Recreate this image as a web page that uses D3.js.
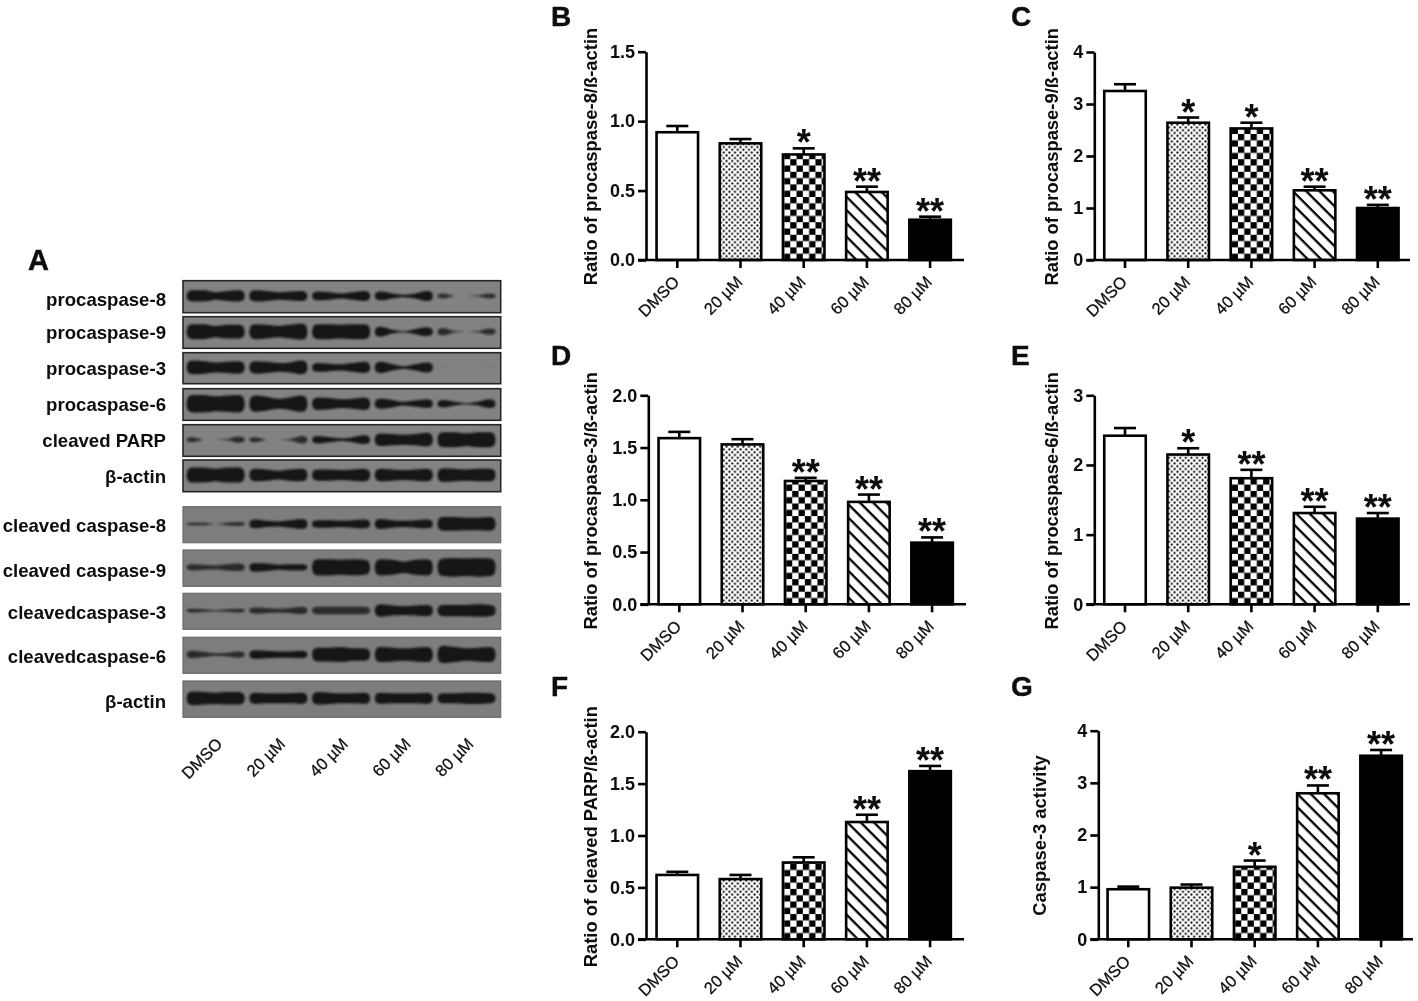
<!DOCTYPE html>
<html><head><meta charset="utf-8">
<script src="https://cdn.jsdelivr.net/npm/d3@7/dist/d3.min.js"></script>
<style>
html,body{margin:0;padding:0;background:#fff}
svg{display:block}
text{font-family:"Liberation Sans",Arial,sans-serif;fill:#0c0c0c}
</style></head><body>
<svg id="fig" width="1418" height="1001"></svg>
<script>
// ---------- data ----------
const doseLabels = ["DMSO","20 µM","40 µM","60 µM","80 µM"];

const procasp8Mean = [0.92,0.84,0.76,0.49,0.29];
const procasp8Upper = [0.965,0.871,0.804,0.528,0.312];
const procasp8Stars = ["","","*","**","**"];

const procasp9Mean = [3.25,2.64,2.53,1.34,1.00];
const procasp9Upper = [3.38,2.74,2.64,1.41,1.06];
const procasp9Stars = ["","*","*","**","**"];

const procasp3Mean = [1.59,1.53,1.18,0.98,0.59];
const procasp3Upper = [1.65,1.58,1.21,1.05,0.64];
const procasp3Stars = ["","","**","**","**"];

const procasp6Mean = [2.42,2.15,1.81,1.31,1.23];
const procasp6Upper = [2.53,2.24,1.93,1.40,1.31];
const procasp6Stars = ["","*","**","**","**"];

const parpMean = [0.62,0.58,0.74,1.13,1.62];
const parpUpper = [0.65,0.62,0.79,1.20,1.67];
const parpStars = ["","","","**","**"];

const activityMean = [0.96,0.99,1.39,2.80,3.52];
const activityUpper = [1.01,1.05,1.51,2.95,3.63];
const activityStars = ["","","*","**","**"];

// western blot: band thickness sampled across each of the five lanes
const blotLabels = ["procaspase-8","procaspase-9","procaspase-3","procaspase-6","cleaved PARP","β-actin",
  "cleaved caspase-8","cleaved caspase-9","cleavedcaspase-3","cleavedcaspase-6","β-actin"];
const blotBands = [
 [[9,9,6,8,9],[9,8,6,7,8],[7,6,4,6,8],[7,4,2,4,8],[4,0,0,1,4]],
 [[12,12,9,11,11],[12,11,9,11,13],[12,12,11,12,12],[8,3,1,4,7],[6,1,0,1,5]],
 [[11,10,8,9,10],[10,9,7,8,11],[7,6,5,7,9],[9,5,2,5,8],[1,0,0,0,1]],
 [[14,14,12,13,14],[13,11,8,10,13],[10,9,7,8,10],[8,6,3,5,7],[6,3,1,3,7]],
 [[4,0,0,1,5],[4,0,0,1,6],[6,4,2,4,7],[10,9,8,9,11],[12,12,10,12,12]],
 [[12,12,10,12,12],[10,9,7,9,10],[9,9,8,9,10],[10,9,8,9,10],[11,10,9,10,10]],
 [[2,2,0,2,3],[7,5,4,6,8],[6,6,5,6,7],[8,6,5,6,7],[11,11,10,10,11]],
 [[5,4,3,5,6],[7,6,4,5,5],[13,13,12,13,12],[13,12,9,12,13],[14,15,14,15,14]],
 [[3,2,1,2,3],[5,4,3,4,6],[6,6,6,6,6],[10,8,7,8,9],[9,9,9,10,9]],
 [[6,4,2,3,5],[7,6,5,5,6],[11,11,12,10,10],[12,11,10,11,12],[14,12,10,11,12]],
 [[11,10,9,10,10],[9,8,8,8,9],[10,9,8,8,9],[9,8,8,8,9],[8,8,9,9,8]]
];

// ---------- layout ----------
const panels = [
 {id:"B",mean:procasp8Mean,upper:procasp8Upper,stars:procasp8Stars,max:1.5,step:0.5,fmt:".1f",title:"Ratio of procaspase-8/ß-actin",
  ax:646,top:51.7,base:260,xEnd:964,c0:677.3,titleX:597,titleY:156.5,lx:551,ly:25.5},
 {id:"C",mean:procasp9Mean,upper:procasp9Upper,stars:procasp9Stars,max:4,step:1,fmt:"d",title:"Ratio of procaspase-9/ß-actin",
  ax:1094.3,top:52,base:260,xEnd:1410,c0:1125,titleX:1058,titleY:156.7,lx:1011,ly:25.5},
 {id:"D",mean:procasp3Mean,upper:procasp3Upper,stars:procasp3Stars,max:2,step:0.5,fmt:".1f",title:"Ratio of procaspase-3/ß-actin",
  ax:648.3,top:395.3,base:604.3,xEnd:966,c0:679.3,titleX:597,titleY:500.8,lx:551,ly:365},
 {id:"E",mean:procasp6Mean,upper:procasp6Upper,stars:procasp6Stars,max:3,step:1,fmt:"d",title:"Ratio of procaspase-6/ß-actin",
  ax:1094.3,top:395.3,base:604.3,xEnd:1410,c0:1125,titleX:1058,titleY:500.8,lx:1011,ly:365},
 {id:"F",mean:parpMean,upper:parpUpper,stars:parpStars,max:2,step:0.5,fmt:".1f",title:"Ratio of cleaved PARP/ß-actin",
  ax:646,top:731.7,base:939.3,xEnd:964,c0:677.3,titleX:597,titleY:836.7,lx:551,ly:696},
 {id:"G",mean:activityMean,upper:activityUpper,stars:activityStars,max:4,step:1,fmt:"d",title:"Caspase-3 activity",
  ax:1098.3,top:730.7,base:939.3,xEnd:1413,c0:1128.3,titleX:1046,titleY:835.5,lx:1011,ly:696}
];
const STEP = 63.2, BAR_W = 41.5, CAP_W = 22, LW = 2.6;

const svg = d3.select("#fig");
const defs = svg.append("defs");
defs.append("filter").attr("id","soft").attr("x",0).attr("y",0).attr("width",1).attr("height",1)
  .attr("filterUnits","objectBoundingBox")
  .append("feGaussianBlur").attr("stdDeviation",0.45);
defs.append("filter").attr("id","bandBlur").attr("x","-10%").attr("y","-60%").attr("width","120%").attr("height","220%")
  .append("feGaussianBlur").attr("stdDeviation",1.2);

// fill patterns
const dots = defs.append("pattern").attr("id","pDots").attr("patternUnits","userSpaceOnUse").attr("width",5.6).attr("height",5.6);
dots.append("rect").attr("width",5.6).attr("height",5.6).attr("fill","#fff");
[[1.4,1.4],[4.2,4.2]].forEach(p=>dots.append("circle").attr("cx",p[0]).attr("cy",p[1]).attr("r",1.1).attr("fill","#111"));
const CH = 6.3;
const hatch = defs.append("pattern").attr("id","pHatch").attr("patternUnits","userSpaceOnUse")
  .attr("width",9.4).attr("height",9.4).attr("patternTransform","rotate(45)");
hatch.append("rect").attr("width",9.4).attr("height",9.4).attr("fill","#fff");
hatch.append("rect").attr("y",0).attr("width",9.4).attr("height",2.3).attr("fill","#000");

const root = svg.append("g").attr("filter","url(#soft)");
root.append("rect").attr("width",1418).attr("height",1001).attr("fill","#fff");

// ---------- bar panels ----------
panels.forEach(p=>{
  const g = root.append("g");
  const x = d3.scaleBand().domain(doseLabels).range([p.c0-STEP/2,p.c0+STEP*4.5]);
  const y = d3.scaleLinear().domain([0,p.max]).range([p.base,p.top]);
  const cx = d=>x(d)+x.bandwidth()/2;

  // checker aligned to the lower-left corner of this panel's checker bar
  const chk = defs.append("pattern").attr("id","pCheck"+p.id).attr("patternUnits","userSpaceOnUse")
    .attr("width",CH*2).attr("height",CH*2)
    .attr("patternTransform",`translate(${cx(doseLabels[2])-BAR_W/2+1-CH},${p.base})`);
  chk.append("rect").attr("width",CH*2).attr("height",CH*2).attr("fill","#fff");
  chk.append("rect").attr("width",CH).attr("height",CH).attr("fill","#000");
  chk.append("rect").attr("x",CH).attr("y",CH).attr("width",CH).attr("height",CH).attr("fill","#000");
  const barFills = ["#fff","url(#pDots)",`url(#pCheck${p.id})`,"url(#pHatch)","#000"];

  const rows = doseLabels.map((d,i)=>({d,i,m:p.mean[i],u:p.upper[i],s:p.stars[i]}));
  // error bars
  const eg = g.append("g").attr("stroke","#000").attr("stroke-width",LW);
  eg.selectAll(".stem").data(rows).join("line").attr("class","stem").attr("x1",r=>cx(r.d)).attr("x2",r=>cx(r.d)).attr("y1",r=>y(r.m)).attr("y2",r=>y(r.u));
  eg.selectAll(".cap").data(rows).join("line").attr("class","cap").attr("x1",r=>cx(r.d)-CAP_W/2).attr("x2",r=>cx(r.d)+CAP_W/2).attr("y1",r=>y(r.u)).attr("y2",r=>y(r.u));
  // bars
  g.selectAll(".bar").data(rows).join("rect").attr("class","bar")
    .attr("x",r=>cx(r.d)-BAR_W/2).attr("width",BAR_W)
    .attr("y",r=>y(r.m)).attr("height",r=>y(0)-y(r.m))
    .attr("fill",r=>barFills[r.i]).attr("stroke","#000").attr("stroke-width",LW);
  // significance
  g.selectAll(".star").data(rows.filter(r=>r.s)).join("text").attr("class","star")
    .attr("x",r=>cx(r.d)).attr("y",r=>y(r.u)+7).attr("text-anchor","middle")
    .attr("font-size",36).attr("font-weight","bold").attr("fill","#000").text(r=>r.s);
  // axes
  const ay = d3.axisLeft(y).tickValues(d3.range(0,p.max+1e-6,p.step)).tickFormat(d3.format(p.fmt)).tickSize(8).tickPadding(3).tickSizeOuter(0);
  const ya = g.append("g").attr("transform",`translate(${p.ax},0)`).call(ay);
  ya.selectAll("path,line").attr("stroke","#000").attr("stroke-width",LW);
  ya.selectAll("text").attr("font-size",18).attr("font-weight","bold").attr("font-family",'"Liberation Sans"');
  const ax = d3.axisBottom(x).tickSize(8).tickPadding(0).tickSizeOuter(0);
  const xa = g.append("g").attr("transform",`translate(0,${p.base})`).call(ax);
  xa.select(".domain").remove();
  xa.selectAll("line").attr("stroke","#000").attr("stroke-width",LW);
  xa.selectAll("text").attr("font-size",16.5).attr("font-family",'"Liberation Sans"').attr("text-anchor","end")
    .attr("dy",0).attr("y",0).attr("x",0).attr("stroke","#0c0c0c").attr("stroke-width",0.25)
    .attr("transform","translate(3,23) rotate(-45)");
  g.append("line").attr("x1",p.ax-8).attr("x2",p.xEnd).attr("y1",p.base).attr("y2",p.base).attr("stroke","#000").attr("stroke-width",LW);
  // axis title
  g.append("text").attr("transform",`translate(${p.titleX},${p.titleY}) rotate(-90)`).attr("text-anchor","middle")
    .attr("font-size",18.4).attr("font-weight","bold").text(p.title);
  // panel letter
  root.append("text").attr("x",p.lx).attr("y",p.ly).attr("font-size",28).attr("font-weight","bold").attr("stroke","#0c0c0c").attr("stroke-width",0.4).text(p.id);
});

// ---------- blot panel ----------
root.append("text").attr("x",28).attr("y",270).attr("font-size",29).attr("font-weight","bold").attr("stroke","#0c0c0c").attr("stroke-width",0.4).text("A");
const blotX0 = 183, blotX1 = 500.7;
const blotTops = [280.7,316.7,352.7,388.7,424.7,460,506.7,550,593.3,637.3,681];
const blotBottoms = [312.7,348.3,383.7,420.3,456.3,491.7,542.7,586.3,629.3,673.3,717.3];
const labelBase = [305.5,339,375,410.5,447,483,532,576.5,619,663,707.5];
const laneScale = d3.scaleBand().domain(doseLabels).range([blotX0+3.5,blotX1-5]).paddingInner(0.07);
const sampleX = d3.scaleLinear().domain([0,4]);
const THICK = 1.25;

blotLabels.forEach((name,i)=>{
  const upper = i<6;
  const g = root.append("g");
  const t = blotTops[i], b = blotBottoms[i], mid = (t+b)/2-0.8;
  g.append("rect").attr("x",blotX0).attr("y",t).attr("width",blotX1-blotX0).attr("height",b-t)
    .attr("fill",upper?"#828282":"#7d7d7d").attr("stroke",upper?"#262626":"#6a6a6a").attr("stroke-width",upper?1.6:1.2);
  doseLabels.forEach((dose,j)=>{
    const prof = blotBands[i][j];
    const lx = laneScale(dose), lw = laneScale.bandwidth();
    const sx = sampleX.copy().range([lx+6,lx+lw-6]);
    const pts = [0,prof[0]*0.75,...prof,prof[4]*0.75,0];
    const xs = [lx,lx+1.5,...prof.map((_,k)=>sx(k)),lx+lw-1.5,lx+lw];
    const area = d3.area().x((d,k)=>xs[k]).y0(d=>mid-d*THICK/2).y1(d=>mid+d*THICK/2).curve(d3.curveMonotoneX);
    const strength = d3.max(prof);
    g.append("path").datum(pts).attr("d",area).attr("fill","#171717")
      .attr("opacity",strength<2?0.12:strength<=6?0.8:1).attr("filter","url(#bandBlur)");
  });
  root.append("text").attr("x",166).attr("y",labelBase[i]).attr("text-anchor","end")
    .attr("font-size",18.6).attr("font-weight","bold").text(name);
});

// lane labels under the blots
const laneLabelX = d3.scaleBand().domain(doseLabels).range([192,506]);
root.append("g").selectAll("text").data(doseLabels).join("text")
  .attr("transform",d=>`translate(${laneLabelX(d)+laneLabelX.bandwidth()/2},745) rotate(-45)`)
  .attr("text-anchor","end").attr("font-size",16.5).attr("stroke","#0c0c0c").attr("stroke-width",0.25).text(d=>d);
</script>
</body></html>
